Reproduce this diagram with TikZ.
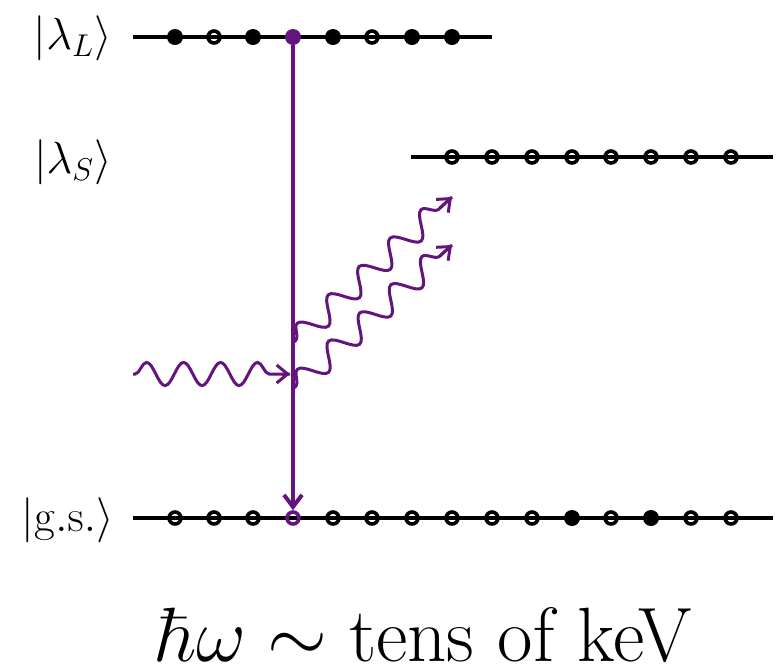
\RequirePackage{fix-cm}
\documentclass[tikz,border=0pt]{standalone}
\usetikzlibrary{arrows.meta,decorations.pathmorphing,calc}
\definecolor{ppl}{RGB}{100,20,125}
\begin{document}
\begin{tikzpicture}[x=0.5pt,y=-0.5pt,
  level/.style={line width=2pt,black},
  full/.style={circle,fill=black,minimum size=8pt,inner sep=0pt},
  empty/.style={circle,draw=black,line width=1.8pt,minimum size=6pt,inner sep=0pt},
  lab/.style={anchor=east,font=\fontsize{22.5}{26}\selectfont,inner sep=0pt},
  wave/.style={ppl,line width=1.5pt,decorate,
    decoration={snake,segment length=#1,amplitude=5.8pt,pre length=1pt,post length=4pt}},
  wtip/.style={-{Straight Barb[length=5.5pt,width=9pt,line width=1.5pt]}},
]
\useasboundingbox (0,0) rectangle (783,671);

% levels
\draw[level] (133,37) -- (492,37);
\draw[level] (411,157) -- (773,157);
\draw[level] (133,518) -- (773,518);

% labels
\node[lab] (lL) at (112,38) {$|\lambda_L\rangle$};
\node[lab] (lS) at (112,162) {$|\lambda_S\rangle$};
\node[lab] (lG) at (114,520) {$|\mathrm{g.s.}\rangle$};

% lambda_L dots
\node[full]  (L1) at (175,37) {};
\node[empty] (L2) at (214,37) {};
\node[full]  (L3) at (253,37) {};
\node[full,fill=ppl] (L4) at (293,37) {};
\node[full]  (L5) at (333,37) {};
\node[empty] (L6) at (372,37) {};
\node[full]  (L7) at (412,37) {};
\node[full]  (L8) at (452,37) {};

% lambda_S dots
\foreach \i/\x in {1/452,2/492,3/532,4/572,5/611,6/651,7/691,8/731}
  \node[empty] (S\i) at (\x,157) {};

% ground state dots
\foreach \i/\x in {1/175,2/214,3/253,5/333,6/372,7/412,8/452,9/492,10/532,12/611,14/691,15/731}
  \node[empty] (G\i) at (\x,518) {};
\node[empty,draw=ppl] (G4) at (293,518) {};
\node[full] (G11) at (572,518) {};
\node[full] (G13) at (651,518) {};

% vertical transition
\draw[ppl,line width=2pt,-{Straight Barb[length=6pt,width=9pt,line width=2pt]}]
  (L4.south) -- (G4.north);

% photons
\coordinate (inA) at (133,374);
\coordinate (inB) at (290,374);
\coordinate (o1A) at (294,342);
\coordinate (o1B) at (452,197);
\coordinate (o2A) at (294,388);
\coordinate (o2B) at (452,245);
\draw[wave=18.5pt] (inA) -- (inB);
\draw[ppl,line width=1.5pt,wtip] ([xshift=-4pt]inB) -- (inB);
\draw[wave=21pt] (o1A) -- (o1B);
\draw[ppl,line width=1.5pt,wtip] ($(o1B)!8pt!(o1A)$) -- (o1B);
\draw[wave=21pt] (o2A) -- (o2B);
\draw[ppl,line width=1.5pt,wtip] ($(o2B)!8pt!(o2A)$) -- (o2B);

% caption
\node[anchor=base,inner sep=0pt,font=\fontsize{38.5}{42}\selectfont] (cap) at (424,661)
  {$\hbar\omega\sim\mbox{tens of keV}$};
\end{tikzpicture}
\end{document}
